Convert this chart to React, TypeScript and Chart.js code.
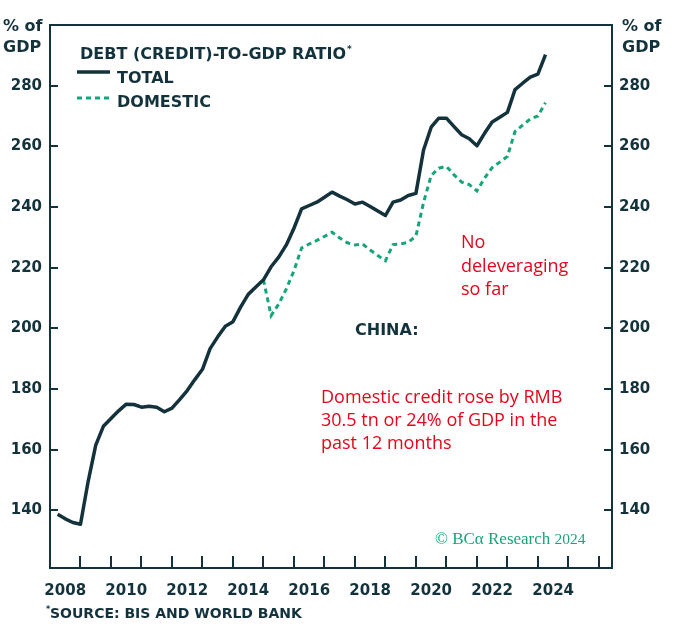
import React, { useEffect, useRef } from "react";
import { Chart, registerables } from "chart.js";

Chart.register(...registerables);

const quarters = [
  "2008Q1","2008Q2","2008Q3","2008Q4",
  "2009Q1","2009Q2","2009Q3","2009Q4",
  "2010Q1","2010Q2","2010Q3","2010Q4",
  "2011Q1","2011Q2","2011Q3","2011Q4",
  "2012Q1","2012Q2","2012Q3","2012Q4",
  "2013Q1","2013Q2","2013Q3","2013Q4",
  "2014Q1","2014Q2","2014Q3","2014Q4",
  "2015Q1","2015Q2","2015Q3","2015Q4",
  "2016Q1","2016Q2","2016Q3","2016Q4",
  "2017Q1","2017Q2","2017Q3","2017Q4",
  "2018Q1","2018Q2","2018Q3","2018Q4",
  "2019Q1","2019Q2","2019Q3","2019Q4",
  "2020Q1","2020Q2","2020Q3","2020Q4",
  "2021Q1","2021Q2","2021Q3","2021Q4",
  "2022Q1","2022Q2","2022Q3","2022Q4",
  "2023Q1","2023Q2","2023Q3","2023Q4",
  "2024Q1",
];

const totalDebt = [
  138.7, 137.2, 136.0, 135.4,
  149.5, 161.5, 167.7, 170.3,
  172.8, 175.0, 174.9, 174.0,
  174.3, 174.0, 172.5, 173.7,
  176.5, 179.5, 183.1, 186.5,
  193.3, 197.2, 200.7, 202.2,
  207.0, 211.2, 213.6, 216.0,
  220.3, 223.5, 227.5, 233.0,
  239.4, 240.5, 241.6, 243.2,
  244.9, 243.6, 242.4, 241.0,
  241.6, 240.2, 238.7, 237.2,
  241.6, 242.3, 243.8, 244.5,
  258.8, 266.3, 269.3, 269.3,
  266.5, 263.8, 262.5, 260.2,
  264.3, 268.0, 269.6, 271.2,
  278.7, 280.8, 282.8, 283.8,
  290.2,
];

const domesticDebt = [
  null, null, null, null,
  null, null, null, null,
  null, null, null, null,
  null, null, null, null,
  null, null, null, null,
  null, null, null, null,
  null, null, null, 216.0,
  204.2, 208.0, 213.0, 219.0,
  226.5, 227.8, 229.0, 230.3,
  231.7, 229.8, 228.2, 227.5,
  227.8, 225.8, 224.0, 222.3,
  227.6, 227.8, 228.4, 230.4,
  241.5, 250.4, 252.8, 253.4,
  250.6, 248.2, 247.4, 245.3,
  249.5, 253.0, 254.8, 256.7,
  264.9, 267.0, 269.0, 270.0,
  274.4,
];

const yTickValues = [140, 160, 180, 200, 220, 240, 260, 280];
const xLabelYears = [2008, 2010, 2012, 2014, 2016, 2018, 2020, 2022, 2024];
const xTickYears = [2009, 2010, 2011, 2012, 2013, 2014, 2015, 2016, 2017, 2018, 2019, 2020, 2021, 2022, 2023, 2024, 2025, 2026];

const DARK = "#14323b";
const GREEN = "#16a57a";
const RED = "#e3061b";
const BOLD = "'DejaVu Sans', sans-serif";

function quarterToX(q: string): number {
  const year = parseInt(q.slice(0, 4), 10);
  const qq = parseInt(q.slice(5), 10);
  return year + qq * 0.25;
}

const decorPlugin = {
  id: "decor",
  afterDatasetsDraw(chart: any) {
    const { ctx, chartArea } = chart;
    const xs = chart.scales.x;
    const ys = chart.scales.y;
    ctx.save();
    ctx.strokeStyle = DARK;
    ctx.lineWidth = 2;
    ctx.strokeRect(chartArea.left, chartArea.top, chartArea.right - chartArea.left, chartArea.bottom - chartArea.top);
    xTickYears.forEach((yr) => {
      const px = Math.round(xs.getPixelForValue(yr));
      ctx.beginPath();
      ctx.moveTo(px, chartArea.bottom);
      ctx.lineTo(px, chartArea.bottom - 12);
      ctx.stroke();
    });
    yTickValues.forEach((v) => {
      const py = Math.round(ys.getPixelForValue(v));
      ctx.beginPath();
      ctx.moveTo(chartArea.left, py);
      ctx.lineTo(chartArea.left + 8, py);
      ctx.moveTo(chartArea.right, py);
      ctx.lineTo(chartArea.right - 8, py);
      ctx.stroke();
    });
    ctx.restore();
  },
  afterDraw(chart: any) {
    const { ctx } = chart;
    ctx.save();
    ctx.textAlign = "left";
    ctx.textBaseline = "alphabetic";
    ctx.fillStyle = DARK;
    ctx.font = `bold 16px ${BOLD}`;
    ctx.fillText("% of", 3, 31);
    ctx.fillText("GDP", 3, 52);
    ctx.fillText("% of", 622, 31);
    ctx.fillText("GDP", 622, 52);
    ctx.font = `bold 16px ${BOLD}`;
    ctx.fillText("DEBT (CREDIT)-TO-GDP RATIO", 80, 59);
    const tw = ctx.measureText("DEBT (CREDIT)-TO-GDP RATIO").width;
    ctx.font = `bold 9px ${BOLD}`;
    ctx.fillText("*", 80 + tw + 1, 52);
    ctx.strokeStyle = DARK;
    ctx.lineWidth = 3.5;
    ctx.beginPath();
    ctx.moveTo(77, 72);
    ctx.lineTo(110, 72);
    ctx.stroke();
    ctx.strokeStyle = GREEN;
    ctx.lineWidth = 3;
    ctx.setLineDash([5, 4]);
    ctx.beginPath();
    ctx.moveTo(77, 98);
    ctx.lineTo(110, 98);
    ctx.stroke();
    ctx.setLineDash([]);
    ctx.fillStyle = DARK;
    ctx.font = `bold 16px ${BOLD}`;
    ctx.fillText("TOTAL", 117, 83);
    ctx.fillText("DOMESTIC", 117, 107);
    ctx.fillText("CHINA:", 355, 335);
    ctx.fillStyle = RED;
    ctx.font = `18px 'Open Sans', sans-serif`;
    ctx.fillText("No", 461, 248);
    ctx.fillText("deleveraging", 461, 271.5);
    ctx.fillText("so far", 461, 295);
    ctx.fillText("Domestic credit rose by RMB", 321, 403);
    ctx.fillText("30.5 tn or 24% of GDP in the", 321, 426);
    ctx.fillText("past 12 months", 321, 448.5);
    ctx.fillStyle = GREEN;
    ctx.font = `17px 'Liberation Serif', serif`;
    const wm = "\u00A9 BC\u03B1 Research ";
    ctx.fillText(wm, 435, 544);
    const ww = ctx.measureText(wm).width;
    ctx.font = `15.5px 'Liberation Serif', serif`;
    ctx.fillText("2024", 435 + ww, 544);
    ctx.fillStyle = DARK;
    ctx.font = `bold 8px ${BOLD}`;
    ctx.fillText("*", 46, 612);
    ctx.font = `bold 14px ${BOLD}`;
    ctx.fillText("SOURCE: BIS AND WORLD BANK", 50, 618);
    ctx.restore();
  },
};

export default function App() {
  const ref = useRef<HTMLCanvasElement | null>(null);

  useEffect(() => {
    document.body.style.margin = "0";
    const canvas = ref.current;
    if (!canvas) return;
    const totalPts = quarters.map((q, i) => ({ x: quarterToX(q), y: totalDebt[i] }));
    const domPts = quarters.map((q, i) => ({ x: quarterToX(q), y: domesticDebt[i] }));
    const chart = new Chart(canvas, {
      type: "line",
      data: {
        datasets: [
          {
            label: "TOTAL",
            data: totalPts as any,
            borderColor: DARK,
            backgroundColor: DARK,
            borderWidth: 3.5,
            pointRadius: 0,
            tension: 0,
            borderJoinStyle: "round",
            yAxisID: "y",
          },
          {
            label: "DOMESTIC",
            data: domPts as any,
            borderColor: GREEN,
            backgroundColor: GREEN,
            borderWidth: 3,
            borderDash: [5, 4],
            pointRadius: 0,
            tension: 0,
            spanGaps: false,
            yAxisID: "y",
          },
        ],
      },
      options: {
        responsive: false,
        animation: false,
        events: [],
        layout: { padding: { top: 25, left: 0, right: 0, bottom: 0 } },
        plugins: { legend: { display: false }, tooltip: { enabled: false }, title: { display: false } },
        scales: {
          x: {
            type: "linear",
            min: 2008,
            max: 2026.43,
            grid: { display: false, drawTicks: false },
            border: { display: false },
            ticks: {
              autoSkip: false,
              maxRotation: 0,
              padding: 14,
              color: DARK,
              font: { family: BOLD, weight: "bold", size: 15 },
              callback: (v: any) => String(Math.floor(Number(v))),
            },
            afterBuildTicks: (s: any) => {
              s.ticks = xLabelYears.map((y) => ({ value: y + 0.5 }));
            },
            afterFit: (s: any) => {
              s.height = 70;
            },
          },
          y: {
            type: "linear",
            position: "left",
            min: 121,
            max: 300,
            grid: { display: false, drawTicks: false },
            border: { display: false },
            ticks: {
              padding: 8,
              color: DARK,
              font: { family: BOLD, weight: "bold", size: 15 },
            },
            afterBuildTicks: (s: any) => {
              s.ticks = yTickValues.map((v) => ({ value: v }));
            },
            afterFit: (s: any) => {
              s.width = 50;
            },
          },
          y2: {
            type: "linear",
            position: "right",
            min: 121,
            max: 300,
            grid: { display: false, drawTicks: false },
            border: { display: false },
            ticks: {
              padding: 7,
              color: DARK,
              font: { family: BOLD, weight: "bold", size: 15 },
            },
            afterBuildTicks: (s: any) => {
              s.ticks = yTickValues.map((v) => ({ value: v }));
            },
            afterFit: (s: any) => {
              s.width = 64;
            },
          },
        },
      },
      plugins: [decorPlugin],
    });
    return () => chart.destroy();
  }, []);

  return (
    <div style={{ width: 676, height: 638 }}>
      <canvas ref={ref} width={676} height={638} style={{ display: "block", width: 676, height: 638 }} />
    </div>
  );
}
